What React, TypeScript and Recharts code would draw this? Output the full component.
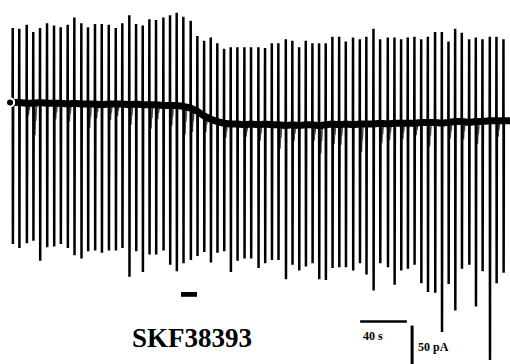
import React from 'react';
import { ComposedChart, Line, XAxis, YAxis, ReferenceLine, ReferenceArea } from 'recharts';

// time of each voltage-step transient (s)
const spikeTimes = [
    10.9, 16.5, 22.9, 28.5, 34.3, 40.3, 46.3, 52.0, 58.0, 63.7,
    69.7, 75.4, 81.4, 87.2, 93.2, 99.2, 104.8, 110.8, 116.6, 122.3,
    128.0, 133.7, 140.0, 145.7, 151.4, 157.1, 163.4, 169.1, 174.9, 180.6,
    186.2, 192.0, 197.7, 203.4, 209.4, 215.1, 221.4, 227.1, 232.9, 238.5,
    244.9, 250.5, 256.3, 262.0, 267.7, 273.4, 279.1, 284.8, 290.6, 296.3,
    302.5, 308.3, 313.9, 320.0, 325.7, 332.3, 338.0, 343.7, 349.4, 355.1,
    360.9, 366.6, 372.8, 378.6, 384.3, 390.0, 395.7, 402.0, 407.7, 413.4,
    419.7, 425.4, 431.4,
];

// holding current just before each transient (pA)
const baseline = [
    2, 2, 1, 1, 2, 1, 1, 1, 0, 1,
    0, 0, 0, -1, 0, 0, 0, -1, 0, -1,
    -1, -1, -2, -2, -2, -3, -5, -9, -15, -19,
    -22, -24, -25, -25, -26, -25, -26, -25, -26, -26,
    -27, -26, -27, -26, -26, -27, -26, -25, -26, -25,
    -26, -25, -25, -25, -24, -25, -24, -24, -24, -24,
    -23, -23, -23, -24, -23, -22, -22, -23, -22, -22,
    -21, -21, -21,
];

// outward peak of each transient (pA)
const spikeTops = [
    95, 94, 99, 90, 95, 101, 98, 96, 99, 108,
    101, 96, 100, 100, 99, 95, 101, 111, 100, 98,
    106, 105, 108, 111, 114, 109, 104, 85, 79, 83,
    76, 69, 71, 71, 71, 71, 71, 70, 76, 76,
    81, 79, 71, 79, 76, 76, 76, 84, 84, 78,
    83, 81, 84, 94, 81, 83, 83, 81, 83, 84,
    81, 84, 90, 90, 78, 94, 89, 81, 83, 81,
    84, 84, 81,
];

// inward peak of each transient (pA)
const spikeBottoms = [
    -175, -180, -174, -171, -196, -179, -178, -175, -180, -189,
    -193, -184, -183, -186, -183, -183, -180, -216, -184, -210,
    -188, -188, -183, -201, -209, -199, -195, -190, -185, -198,
    -186, -184, -210, -196, -193, -193, -205, -199, -195, -195,
    -219, -201, -208, -203, -199, -219, -220, -205, -204, -204,
    -208, -199, -213, -233, -199, -204, -226, -208, -206, -201,
    -224, -235, -236, -285, -225, -258, -206, -201, -253, -209,
    -320, -224, -211,
];

// spontaneous inward events: index of the transient they follow, and amplitude (pA)
const miniSpike = [2, 3, 6, 8, 11, 12, 14, 15, 17, 20, 21, 23, 25, 26, 28, 31, 34, 36, 39, 41, 44, 45, 47, 48, 51, 54, 55, 57, 59, 61, 64, 66, 68, 71];
const miniAmp = [15, 40, 20, 22, 30, 18, 20, 15, 25, 30, 18, 25, 35, 30, 20, 18, 15, 20, 30, 20, 20, 35, 25, 25, 35, 25, 20, 20, 15, 30, 20, 22, 28, 20];

const traceStart = 8.6;
const traceEnd = 437;
const drugOn = 155.1;
const drugOff = 168.8;

const last = baseline.length - 1;

const tracePoints: { t: number; i: number }[] = [{ t: traceStart, i: baseline[0] }];
spikeTimes.forEach((t, k) => {
    const b = baseline[k];
    tracePoints.push({ t: t - 0.15, i: b });
    tracePoints.push({ t, i: spikeTops[k] });
    tracePoints.push({ t: t + 0.15, i: spikeBottoms[k] });
    tracePoints.push({ t: t + 0.35, i: b });
});
tracePoints.push({ t: traceEnd, i: baseline[last] });

// minis drawn as separate thin grey strokes, broken by nulls
const miniPoints: { t: number; i: number | null }[] = [];
miniSpike.forEach((k, m) => {
    const t = spikeTimes[k];
    const b = baseline[k];
    const a = miniAmp[m];
    miniPoints.push({ t: t + 1.3, i: b });
    miniPoints.push({ t: t + 1.45, i: b - a });
    miniPoints.push({ t: t + 1.9, i: b - a * 0.4 });
    miniPoints.push({ t: t + 2.2, i: b - a * 0.55 });
    miniPoints.push({ t: t + 2.9, i: b });
    miniPoints.push({ t: t + 3.0, i: null });
});

// thick noisy holding-current band
const bandPoints = [
    { t: traceStart, i: baseline[0] },
    ...spikeTimes.map((t, k) => ({ t, i: baseline[k] })),
    { t: traceEnd, i: baseline[last] },
];

const serif = '"Liberation Serif", "Times New Roman", serif';

const App = () => (
    <div style={{ position: 'absolute', left: 0, top: 0, width: 510, height: 364, background: '#fff' }}>
        <ComposedChart width={510} height={364} margin={{ top: 0, right: 0, bottom: 0, left: 0 }}>
            <XAxis dataKey="t" type="number" domain={[0, 437]} hide allowDataOverflow />
            <YAxis type="number" domain={[-325, 130]} hide allowDataOverflow />
            <Line data={miniPoints} dataKey="i" type="linear" stroke="#444" strokeWidth={1.4} dot={false} connectNulls={false} isAnimationActive={false} />
            <Line data={bandPoints} dataKey="i" type="linear" stroke="#000" strokeWidth={7} dot={false} isAnimationActive={false} />
            <Line data={tracePoints} dataKey="i" type="linear" stroke="#000" strokeWidth={2.5} dot={false} isAnimationActive={false} />
            <ReferenceArea x1={drugOn} x2={drugOff} y1={-235} y2={-241} fill="#000" fillOpacity={1} stroke="none" ifOverflow="visible" />
            <ReferenceLine segment={[{ x: 308.6, y: -272 }, { x: 348.6, y: -272 }]} stroke="#000" strokeWidth={2.5} ifOverflow="visible" />
            <ReferenceLine segment={[{ x: 353.1, y: -277 }, { x: 353.1, y: -327 }]} stroke="#000" strokeWidth={3} ifOverflow="visible" />
            <text x={132} y={347} fontFamily={serif} fontWeight="bold" fontSize={27} fill="#000">SKF38393</text>
            <text x={363} y={340} fontFamily={serif} fontWeight="bold" fontSize={12} fill="#000">40 s</text>
            <text x={418} y={351} fontFamily={serif} fontWeight="bold" fontSize={12} fill="#000">50 pA</text>
        </ComposedChart>
    </div>
);

export default App;
